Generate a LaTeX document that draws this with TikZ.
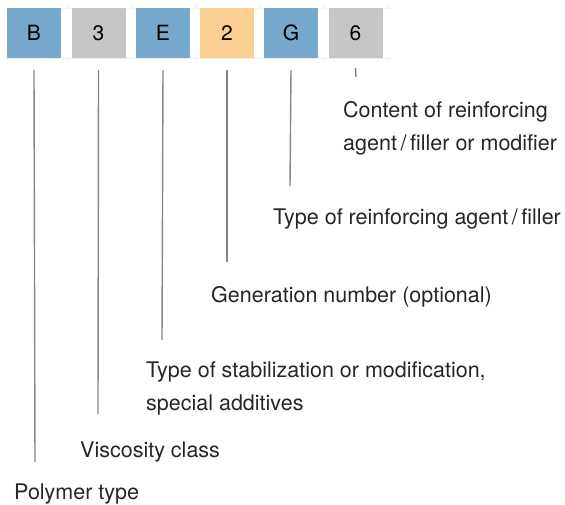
\documentclass[tikz,border=0pt]{standalone}
\usepackage{fontspec}
\setmainfont{TeX Gyre Heros}
\begin{document}
\begin{tikzpicture}[x=1pt,y=-1pt,
  box/.style={minimum width=54pt,minimum height=50pt,inner sep=0pt,font=\fontsize{21}{24}\selectfont,text=black},
  lbl/.style={anchor=base west,inner sep=0pt,font=\fontsize{21.5}{32.5}\selectfont,text=black!85,align=left},
  conn/.style={draw=black!48,line width=1.4pt},
  guide/.style={draw=black!6,line width=0.6pt}]
\useasboundingbox (0,0) rectangle (565,504);
\definecolor{cblue}{HTML}{77A9CC}
\definecolor{cgray}{HTML}{C6C6C6}
\definecolor{corange}{HTML}{FCCF92}
% faint guides
\draw[guide] (5,8) -- (392,8);
\draw[guide] (5,58) -- (392,58);
\foreach \x in {67,131,196,260,324,388}{
  \draw[guide] (\x,3) -- (\x,8);
  \draw[guide] (\x,58) -- (\x,63);
}
% boxes
\node[box,fill=cblue]   (B) at (34,33) {B};
\node[box,fill=cgray]   (T) at (98.5,33) {3};
\node[box,fill=cblue]   (E) at (163,33) {E};
\node[box,fill=corange] (N) at (227,33) {2};
\node[box,fill=cblue]   (G) at (291,33) {G};
\node[box,fill=cgray]   (S) at (355.5,33) {6};
% labels (base = last line)
\node[lbl] (lS) at (343,150) {Content of reinforcing\\agent\,/\,filler or modifier};
\node[lbl] (lG) at (273,224) {Type of reinforcing agent\,/\,filler};
\node[lbl] (lN) at (211,302) {Generation number (optional)};
\node[lbl] (lE) at (146,410) {Type of stabilization or modification,\\special additives};
\node[lbl] (lT) at (80,457) {Viscosity class};
\node[lbl] (lB) at (14,499) {Polymer type};
% connector ends
\coordinate (eS) at (356,77);
\coordinate (eG) at (290,186);
\coordinate (eN) at (227,262);
\coordinate (eE) at (162,340);
\coordinate (eT) at (98,414);
\coordinate (eB) at (35,462);
\draw[conn] ([yshift=-10pt]S.south) -- (eS);
\draw[conn] ([yshift=-12pt]G.south) -- (eG);
\draw[conn] ([yshift=-12pt]N.south) -- (eN);
\draw[conn] ([yshift=-12pt]E.south) -- (eE);
\draw[conn] ([yshift=-12pt]T.south) -- (eT);
\draw[conn] ([yshift=-12pt]B.south) -- (eB);
\end{tikzpicture}
\end{document}
